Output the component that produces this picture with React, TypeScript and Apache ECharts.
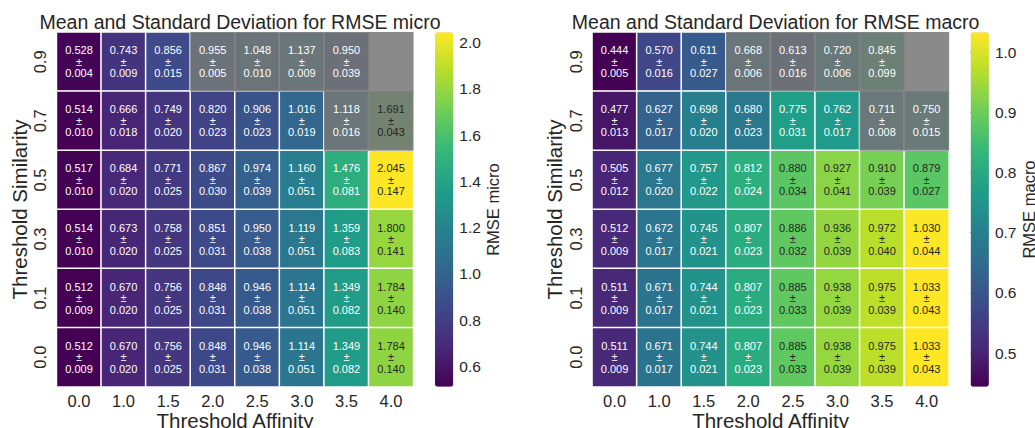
import React, { useEffect, useRef } from 'react';
import * as echarts from 'echarts';

// ---- Data ----
const affinityLabels = ['0.0', '1.0', '1.5', '2.0', '2.5', '3.0', '3.5', '4.0'];
const similarityLabels = ['0.9', '0.7', '0.5', '0.3', '0.1', '0.0']; // top to bottom

const microMean: (number | null)[][] = [
  [0.528, 0.743, 0.856, 0.955, 1.048, 1.137, 0.950, null],
  [0.514, 0.666, 0.749, 0.820, 0.906, 1.016, 1.118, 1.691],
  [0.517, 0.684, 0.771, 0.867, 0.974, 1.160, 1.476, 2.045],
  [0.514, 0.673, 0.758, 0.851, 0.950, 1.119, 1.359, 1.800],
  [0.512, 0.670, 0.756, 0.848, 0.946, 1.114, 1.349, 1.784],
  [0.512, 0.670, 0.756, 0.848, 0.946, 1.114, 1.349, 1.784],
];
const microStd: (number | null)[][] = [
  [0.004, 0.009, 0.015, 0.005, 0.010, 0.009, 0.039, null],
  [0.010, 0.018, 0.020, 0.023, 0.023, 0.019, 0.016, 0.043],
  [0.010, 0.020, 0.025, 0.030, 0.039, 0.051, 0.081, 0.147],
  [0.010, 0.020, 0.025, 0.031, 0.038, 0.051, 0.083, 0.141],
  [0.009, 0.020, 0.025, 0.031, 0.038, 0.051, 0.082, 0.140],
  [0.009, 0.020, 0.025, 0.031, 0.038, 0.051, 0.082, 0.140],
];
const macroMean: (number | null)[][] = [
  [0.444, 0.570, 0.611, 0.668, 0.613, 0.720, 0.845, null],
  [0.477, 0.627, 0.698, 0.680, 0.775, 0.762, 0.711, 0.750],
  [0.505, 0.677, 0.757, 0.812, 0.880, 0.927, 0.910, 0.879],
  [0.512, 0.672, 0.745, 0.807, 0.886, 0.936, 0.972, 1.030],
  [0.511, 0.671, 0.744, 0.807, 0.885, 0.938, 0.975, 1.033],
  [0.511, 0.671, 0.744, 0.807, 0.885, 0.938, 0.975, 1.033],
];
const macroStd: (number | null)[][] = [
  [0.005, 0.016, 0.027, 0.006, 0.016, 0.006, 0.099, null],
  [0.013, 0.017, 0.020, 0.023, 0.031, 0.017, 0.008, 0.015],
  [0.012, 0.020, 0.022, 0.024, 0.034, 0.041, 0.039, 0.027],
  [0.009, 0.017, 0.021, 0.023, 0.032, 0.039, 0.040, 0.044],
  [0.009, 0.017, 0.021, 0.023, 0.033, 0.039, 0.039, 0.043],
  [0.009, 0.017, 0.021, 0.023, 0.033, 0.039, 0.039, 0.043],
];
// greyed-out cells: [column, row]
const maskedCells: [number, number][] = [
  [3, 0], [4, 0], [5, 0], [6, 0], [7, 0],
  [6, 1], [7, 1],
];
const microRange = [0.512, 2.045];
const macroRange = [0.444, 1.033];
const microTicks = [0.6, 0.8, 1.0, 1.2, 1.4, 1.6, 1.8, 2.0];
const macroTicks = [0.5, 0.6, 0.7, 0.8, 0.9, 1.0];

const viridis = ['#440154', '#482878', '#3e4989', '#31688e', '#26828e', '#1f9e89', '#35b779', '#6ece58', '#b5de2b', '#fde725'];

const FONT = '"Liberation Sans", Arial, Helvetica, sans-serif';
const TEXT = '#262626';
const MASK = 'rgba(118,118,118,0.85)';
const CLEAR = 'rgba(0,0,0,0)';

function buildPanel(
  p: number,
  left: number,
  title: string,
  cbName: string,
  mean: (number | null)[][],
  std: (number | null)[][],
  range: number[],
  ticks: number[]
) {
  const top = 32.3;
  const w = 356.6;
  const h = 354.4;
  const cbLeft = left + 378.3;
  const cbW = 18.3;

  const grids = [
    { left, top, width: w, height: h, outerBoundsMode: 'none', containLabel: false },
    { left: cbLeft, top, width: cbW, height: h, outerBoundsMode: 'none', containLabel: false },
  ];
  const xAxes = [
    {
      type: 'category', gridIndex: 2 * p, data: affinityLabels,
      axisLine: { show: false }, axisTick: { show: false }, splitLine: { show: false },
      axisLabel: { fontSize: 16.5, color: TEXT, fontFamily: FONT, margin: 6 },
      name: 'Threshold Affinity', nameLocation: 'middle', nameGap: 23, nameMoveOverlap: false,
      nameTextStyle: { fontSize: 20.5, color: TEXT, fontFamily: FONT },
    },
    { type: 'value', gridIndex: 2 * p + 1, show: false, min: 0, max: 1 },
  ];
  const yAxes = [
    {
      type: 'category', gridIndex: 2 * p, data: similarityLabels, inverse: true,
      axisLine: { show: false }, axisTick: { show: false }, splitLine: { show: false },
      axisLabel: { fontSize: 16.5, color: TEXT, fontFamily: FONT, rotate: 90, margin: 8 },
      name: 'Threshold Similarity', nameLocation: 'middle', nameRotate: 90, nameGap: 27,
      nameTextStyle: { fontSize: 20.5, color: TEXT, fontFamily: FONT },
    },
    {
      type: 'value', gridIndex: 2 * p + 1, position: 'right', min: range[0], max: range[1],
      axisLine: { show: false }, splitLine: { show: false },
      axisTick: { show: true, length: 4, customValues: ticks, lineStyle: { color: TEXT, width: 1 } },
      axisLabel: {
        customValues: ticks, fontSize: 15.5, color: TEXT, fontFamily: FONT, margin: 6,
        formatter: (v: number) => v.toFixed(1),
      },
      name: cbName, nameLocation: 'middle', nameRotate: 90, nameGap: 26,
      nameTextStyle: { fontSize: 16.5, color: TEXT, fontFamily: FONT },
    },
  ];

  const cellData: any[] = [];
  const labelData: any[] = [];
  mean.forEach((row, r) => {
    row.forEach((v, c) => {
      if (v === null) return;
      const s = std[r][c] as number;
      cellData.push([c, r, v]);
      const norm = (v - range[0]) / (range[1] - range[0]);
      labelData.push({
        value: [c, r, v, s],
        label: { color: norm > 0.71 ? TEXT : '#ffffff' },
      });
    });
  });
  const maskData = maskedCells.map(([c, r]) => [c, r, 1]);

  const series = [
    {
      type: 'heatmap', xAxisIndex: 2 * p, yAxisIndex: 2 * p, data: cellData, z: 2,
      itemStyle: { borderColor: '#ffffff', borderWidth: 1.5 },
      label: { show: false }, emphasis: { disabled: true },
    },
    {
      type: 'heatmap', xAxisIndex: 2 * p, yAxisIndex: 2 * p, data: maskData, z: 3,
      itemStyle: { borderWidth: 0 },
      label: { show: false }, emphasis: { disabled: true },
    },
    {
      type: 'heatmap', xAxisIndex: 2 * p, yAxisIndex: 2 * p, data: labelData, z: 4,
      itemStyle: { borderWidth: 0 },
      label: {
        show: true, fontSize: 11, lineHeight: 11.5, fontFamily: FONT, align: 'center',
        formatter: (q: any) => `${q.value[2].toFixed(3)}\n±\n${q.value[3].toFixed(3)}`,
      },
      emphasis: { disabled: true },
    },
  ];

  const visualMaps = [
    {
      type: 'continuous', seriesIndex: 3 * p, dimension: 2,
      min: range[0], max: range[1], calculable: false, show: true,
      orient: 'vertical', left: cbLeft, top, itemWidth: cbW, itemHeight: h,
      padding: 0, hoverLink: false,
      inRange: { color: viridis },
    },
    {
      type: 'continuous', seriesIndex: 3 * p + 1, dimension: 2, show: false,
      min: 0, max: 2, inRange: { color: [MASK, MASK] },
    },
    {
      type: 'continuous', seriesIndex: 3 * p + 2, dimension: 2, show: false,
      min: 0, max: 3, inRange: { color: [CLEAR, CLEAR] },
    },
  ];

  const titleEl = {
    text: title, left: left + w / 2, top: 7, textAlign: 'center',
    textStyle: { fontSize: 19.5, fontWeight: 'normal', color: TEXT, fontFamily: FONT },
  };

  return { grids, xAxes, yAxes, series, visualMaps, titleEl };
}

export default function App() {
  const ref = useRef<HTMLDivElement>(null);
  useEffect(() => {
    if (!ref.current) return;
    const chart = echarts.init(ref.current, null, { renderer: 'svg' });
    const a = buildPanel(0, 56.7, 'Mean and Standard Deviation for RMSE micro', 'RMSE micro', microMean, microStd, microRange, microTicks);
    const b = buildPanel(1, 592.3, 'Mean and Standard Deviation for RMSE macro', 'RMSE macro', macroMean, macroStd, macroRange, macroTicks);
    chart.setOption({
      animation: false,
      backgroundColor: '#ffffff',
      textStyle: { fontFamily: FONT },
      title: [a.titleEl, b.titleEl],
      grid: [...a.grids, ...b.grids],
      xAxis: [...a.xAxes, ...b.xAxes],
      yAxis: [...a.yAxes, ...b.yAxes],
      visualMap: [...a.visualMaps, ...b.visualMaps],
      series: [...a.series, ...b.series],
    });
    return () => chart.dispose();
  }, []);
  return <div ref={ref} style={{ position: 'fixed', left: 0, top: 0, width: 1035, height: 428 }} />;
}
